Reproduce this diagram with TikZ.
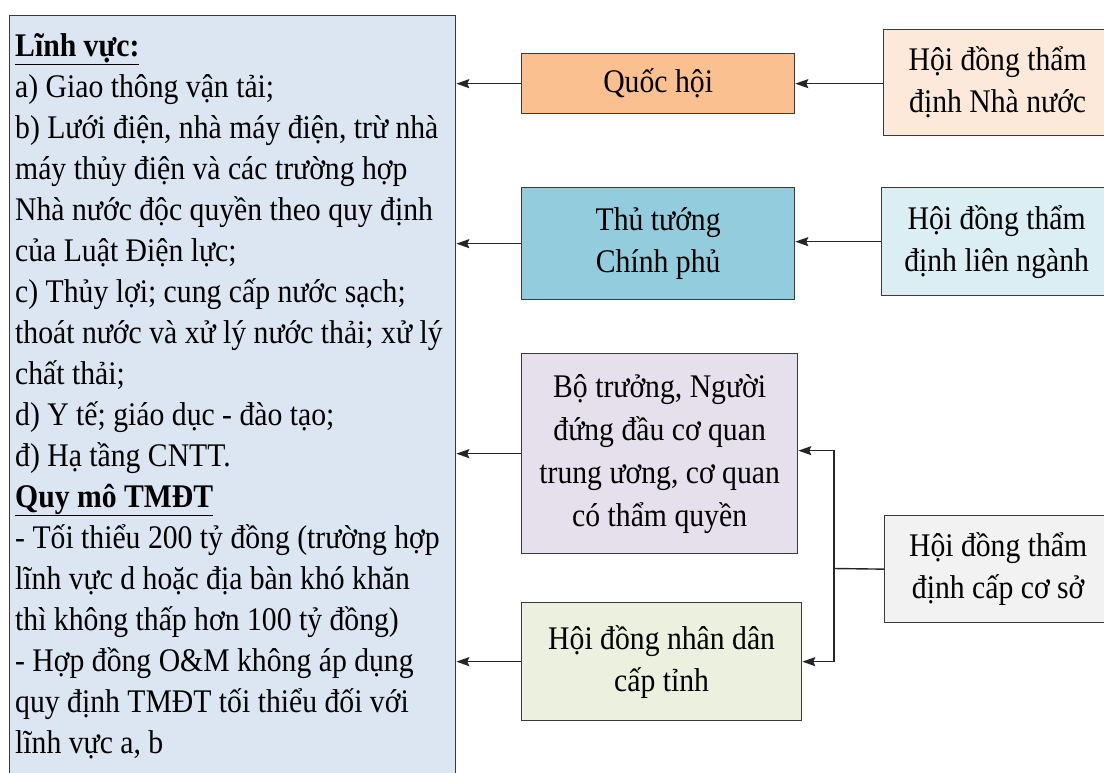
\documentclass[tikz,border=0pt]{standalone}
\usepackage{fontspec}
\setmainfont[FakeStretch=0.9]{Liberation Serif}
\usetikzlibrary{arrows.meta}
\definecolor{fieldfill}{HTML}{DCE6F2}
\definecolor{qhfill}{HTML}{FAC090}
\definecolor{nnfill}{HTML}{FDE9D9}
\definecolor{ttfill}{HTML}{93CDDD}
\definecolor{lnfill}{HTML}{DBEEF4}
\definecolor{btfill}{HTML}{E6E0EC}
\definecolor{ndfill}{HTML}{EBF1DE}
\definecolor{csfill}{HTML}{F2F2F2}
\definecolor{edge}{HTML}{3A3A3A}
\tikzset{
  box/.style={draw=edge, line width=1.3pt, rectangle, inner sep=0pt, anchor=north west,
    align=center, font=\fontsize{33}{42}\selectfont},
  arr/.style={draw=black!85, line width=1.4pt, -{Stealth[length=13pt,width=9pt,inset=2pt]}},
  link/.style={draw=black!85, line width=1.4pt},
}
\begin{document}
\begin{tikzpicture}[x=1pt,y=-1pt]
\clip (0,0) rectangle (1104,772);
\fill[white] (0,0) rectangle (1104,772);

% field / scale panel on the left
\node[box, fill=fieldfill, minimum width=446pt, minimum height=800pt] (lv) at (9,15) {};
\node[anchor=north west, inner sep=0pt, align=left, font=\fontsize{33}{41}\selectfont]
  (lvt) at (15,33) {%
  \textbf{\underline{Lĩnh vực:}}\\
  a) Giao thông vận tải;\\
  b) Lưới điện, nhà máy điện, trừ nhà\\
  máy thủy điện và các trường hợp\\
  Nhà nước độc quyền theo quy định\\
  của Luật Điện lực;\\
  c) Thủy lợi; cung cấp nước sạch;\\
  thoát nước và xử lý nước thải; xử lý\\
  chất thải;\\
  d) Y tế; giáo dục - đào tạo;\\
  đ) Hạ tầng CNTT.\\
  \textbf{\underline{Quy mô TMĐT}}\\
  - Tối thiểu 200 tỷ đồng (trường hợp\\
  lĩnh vực d hoặc địa bàn khó khăn\\
  thì không thấp hơn 100 tỷ đồng)\\
  - Hợp đồng O\&M không áp dụng\\
  quy định TMĐT tối thiểu đối với\\
  lĩnh vực a, b};

% deciding bodies
\node[box, fill=qhfill, minimum width=273pt, minimum height=60pt] (qh) at (521,53) {Quốc hội};
\node[box, fill=ttfill, minimum width=273pt, minimum height=112pt] (tt) at (521,187) {Thủ tướng\\Chính phủ};
\node[box, fill=btfill, minimum width=276pt, minimum height=200pt, font=\fontsize{33}{43}\selectfont] (bt) at (521,353)
  {Bộ trưởng, Người\\đứng đầu cơ quan\\trung ương, cơ quan\\có thẩm quyền};
\node[box, fill=ndfill, minimum width=280pt, minimum height=118pt] (nd) at (521,602) {Hội đồng nhân dân\\cấp tỉnh};

% appraisal councils
\node[box, fill=nnfill, minimum width=228pt, minimum height=106pt] (nn) at (883,29) {Hội đồng thẩm\\định Nhà nước};
\node[box, fill=lnfill, minimum width=230pt, minimum height=108pt] (ln) at (881,187) {Hội đồng thẩm\\định liên ngành};
\node[box, fill=csfill, minimum width=227pt, minimum height=107pt] (cs) at (884,515) {Hội đồng thẩm\\định cấp cơ sở};

% connectors
\draw[arr] (qh.west) -- (qh.west -| lv.east);
\draw[arr] (tt.west) -- (tt.west -| lv.east);
\draw[arr] (bt.west) -- (bt.west -| lv.east);
\draw[arr] (nd.west) -- (nd.west -| lv.east);
\draw[arr] (nn.west |- qh.east) -- (qh.east);
\draw[arr] (ln.west) -- (ln.west -| tt.east);
\coordinate (jn) at (834,568.5);
\draw[link] (cs.west) -- (jn);
\draw[arr] (jn) |- ([yshift=3pt]bt.east);
\draw[arr] (jn) |- (nd.east);
\end{tikzpicture}
\end{document}
